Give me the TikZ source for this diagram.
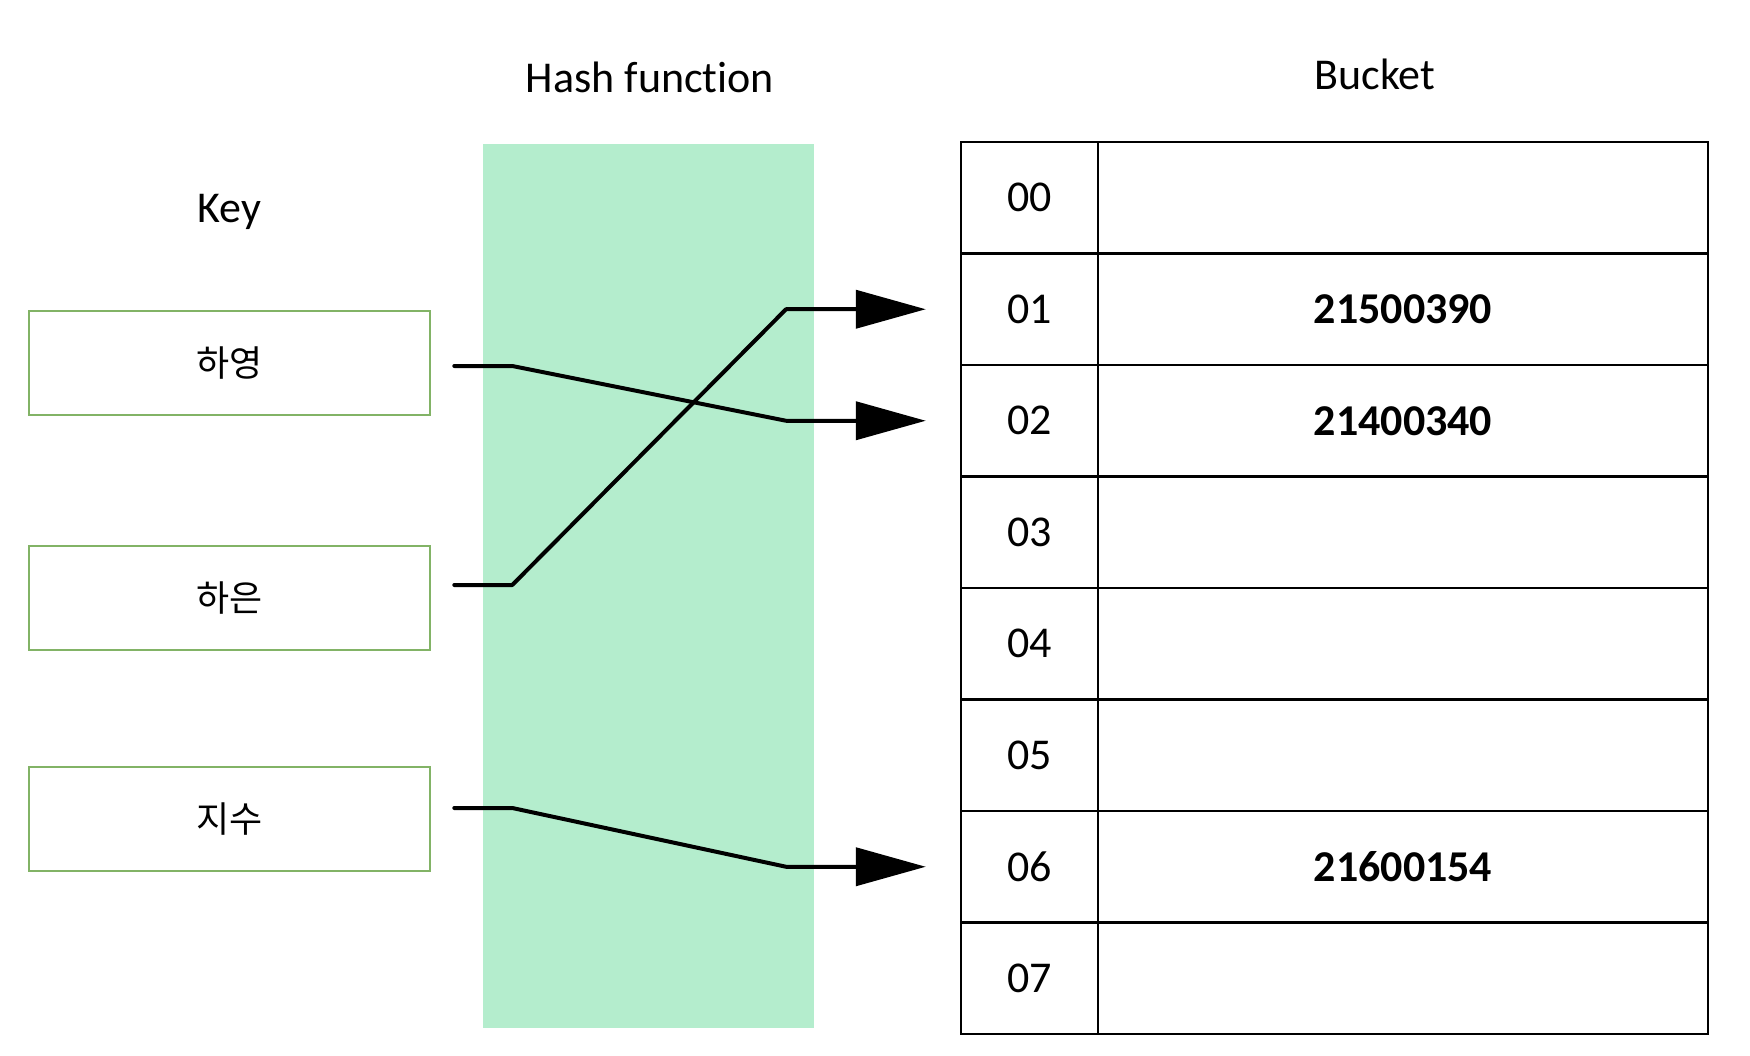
\documentclass[tikz,border=0pt]{standalone}
\usepackage{fontspec}
\setmainfont[RawFeature=-liga]{Carlito}
\newfontfamily\krfont{Noto Sans CJK KR}
\usetikzlibrary{arrows.meta,calc}
\definecolor{hashgreen}{HTML}{B4EDCD}
\definecolor{keygreen}{HTML}{82B366}
\begin{document}
\begin{tikzpicture}[x=1pt,y=-1pt,
  keybox/.style={draw=keygreen,line width=2.5pt,minimum width=401pt,minimum height=104pt,inner sep=0pt,font=\krfont\fontsize{36}{40}\selectfont},
  idxcell/.style={draw=black,line width=2.5pt,minimum width=137pt,minimum height=111.5pt,inner sep=0pt,font=\fontsize{44}{50}\selectfont},
  valcell/.style={draw=black,line width=2.5pt,minimum width=610pt,minimum height=111.5pt,inner sep=0pt,font=\bfseries\fontsize{44}{50}\selectfont},
  toplabel/.style={font=\fontsize{44}{50}\selectfont,inner sep=0pt,anchor=base},
  link/.style={line width=4pt,line cap=round,line join=round,-{Triangle[length=70pt,width=38pt]},shorten >=34pt}
]
\useasboundingbox (0,0) rectangle (1750,1056);
\node[fill=hashgreen,minimum width=331pt,minimum height=884pt,inner sep=0pt] (hash) at (648.5,586) {};
\node[toplabel] (hashlbl) at (650,93) {Hash function};
\node[toplabel] (bucketlbl) at (1375,90) {Bucket};
\node[toplabel] (keylbl) at (229.5,223) {Key};
\node[keybox] (k1) at (229.5,363) {하영};
\node[keybox] (k2) at (229.5,598) {하은};
\node[keybox] (k3) at (229.5,819) {지수};
\foreach \i/\v in {0/{},1/21500390,2/21400340,3/{},4/{},5/{},6/21600154,7/{}} {
  \node[idxcell] (idx\i) at (1029.5,{142+(\i+0.5)*111.5}) {0\i};
  \node[valcell] (val\i) at (1403,{142+(\i+0.5)*111.5}) {\v};
}
\draw[link] ($(k1.east)+(23,3)$) -- ++(58,0) -- (786,0 |- idx2.west) -- (idx2.west);
\draw[link] ($(k2.east)+(23,-13)$) -- ++(58,0) -- (786,0 |- idx1.west) -- (idx1.west);
\draw[link] ($(k3.east)+(23,-11)$) -- ++(58,0) -- (786,0 |- idx6.west) -- (idx6.west);
\end{tikzpicture}
\end{document}
